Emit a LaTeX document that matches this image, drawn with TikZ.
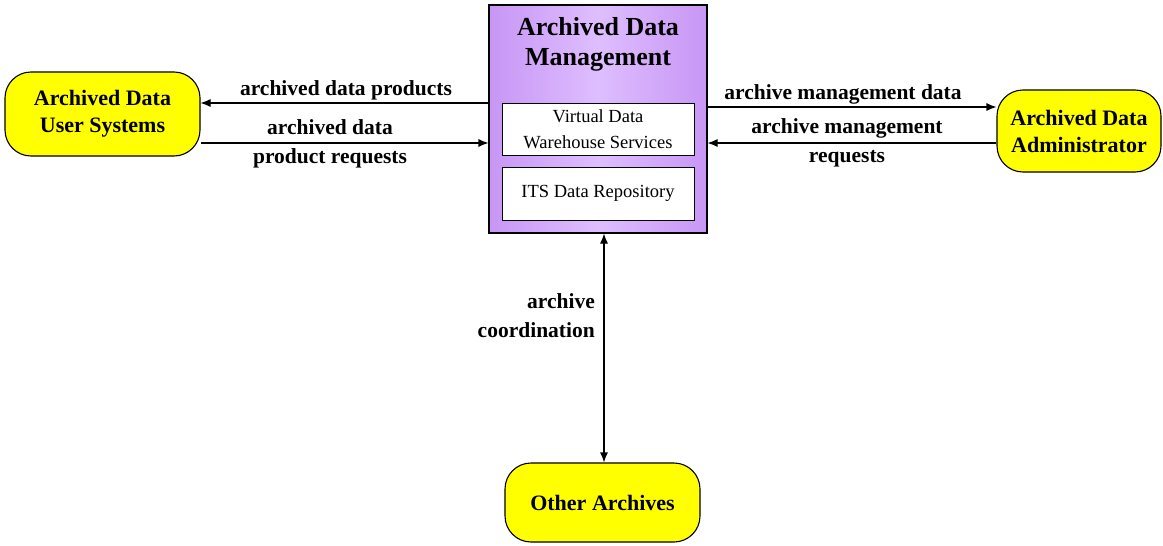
\documentclass[tikz,border=0pt]{standalone}
\usepackage{fontspec}
\setmainfont{Liberation Serif}
\usetikzlibrary{arrows.meta}
\definecolor{termyel}{RGB}{255,255,0}
\definecolor{purp}{RGB}{200,150,245}
\definecolor{purplight}{RGB}{222,190,255}
\tikzset{
  term/.style={draw=black, line width=1.1pt, fill=termyel, rounded corners=26pt, align=center, font=\bfseries\fontsize{22}{27}\selectfont},
  inner/.style={draw=black, line width=1pt, fill=white, align=center, font=\fontsize{18.5}{26}\selectfont, minimum width=192pt},
  arr/.style={line width=1.1pt, -{Latex[length=10pt,width=8pt]}},
  biarr/.style={line width=1.1pt, {Latex[length=10pt,width=8pt]}-{Latex[length=10pt,width=8pt]}},
  lbl/.style={align=center, font=\bfseries\fontsize{21.5}{29}\selectfont, inner sep=0pt}
}
\begin{document}
\begin{tikzpicture}[x=1pt,y=-1pt]
\useasboundingbox (0,0) rectangle (1163,546);
% central box
\node[draw=black, line width=1.1pt, left color=purp, right color=purp, middle color=purplight, minimum width=218pt, minimum height=228pt] (adm) at (598,119) {};
\node[align=center, font=\bfseries\fontsize{26}{30}\selectfont, inner sep=0pt] (admt) at (598,44) {Archived Data\\Management};
\node[inner, minimum height=52pt, inner sep=0pt] (vdw) at (598,129) {Virtual Data\\Warehouse Services};
\node[inner, minimum height=53pt, inner sep=0pt] (its) at (598,193.5) {ITS Data Repository};
% terminators
\node[term, minimum width=195pt, minimum height=84pt, inner sep=0pt] (user) at (102.5,114) {Archived Data\\User Systems};
\node[term, minimum width=164pt, minimum height=82pt, inner sep=0pt] (admin) at (1079,131) {Archived Data\\Administrator};
\node[term, minimum width=195pt, minimum height=79pt, inner sep=0pt] (other) at (602.5,502.5) {Other Archives};
% helper coordinates
\coordinate (ya) at (0,103);
\coordinate (yb) at (0,143);
\coordinate (yc) at (0,107);
\coordinate (yd) at (0,143);
\coordinate (xv) at (604,0);
% connectors
\draw[arr] (adm.west |- ya) -- (user.east |- ya);
\draw[arr] (user.east |- yb) -- (adm.west |- yb);
\draw[arr] (adm.east |- yc) -- (admin.west |- yc);
\draw[arr] (admin.west |- yd) -- (adm.east |- yd);
\draw[biarr] (adm.south -| xv) -- (other.north -| xv);
% labels
\node[lbl] (l1) at (346,90) {archived data products};
\node[lbl] (l2) at (330,144) {archived data\\product requests};
\node[lbl] (l3) at (843,94) {archive management data};
\node[lbl] (l4) at (847,143) {archive management\\requests};
\node[lbl, align=right, anchor=east] (l5) at (595,316) {archive\\coordination};
\end{tikzpicture}
\end{document}
